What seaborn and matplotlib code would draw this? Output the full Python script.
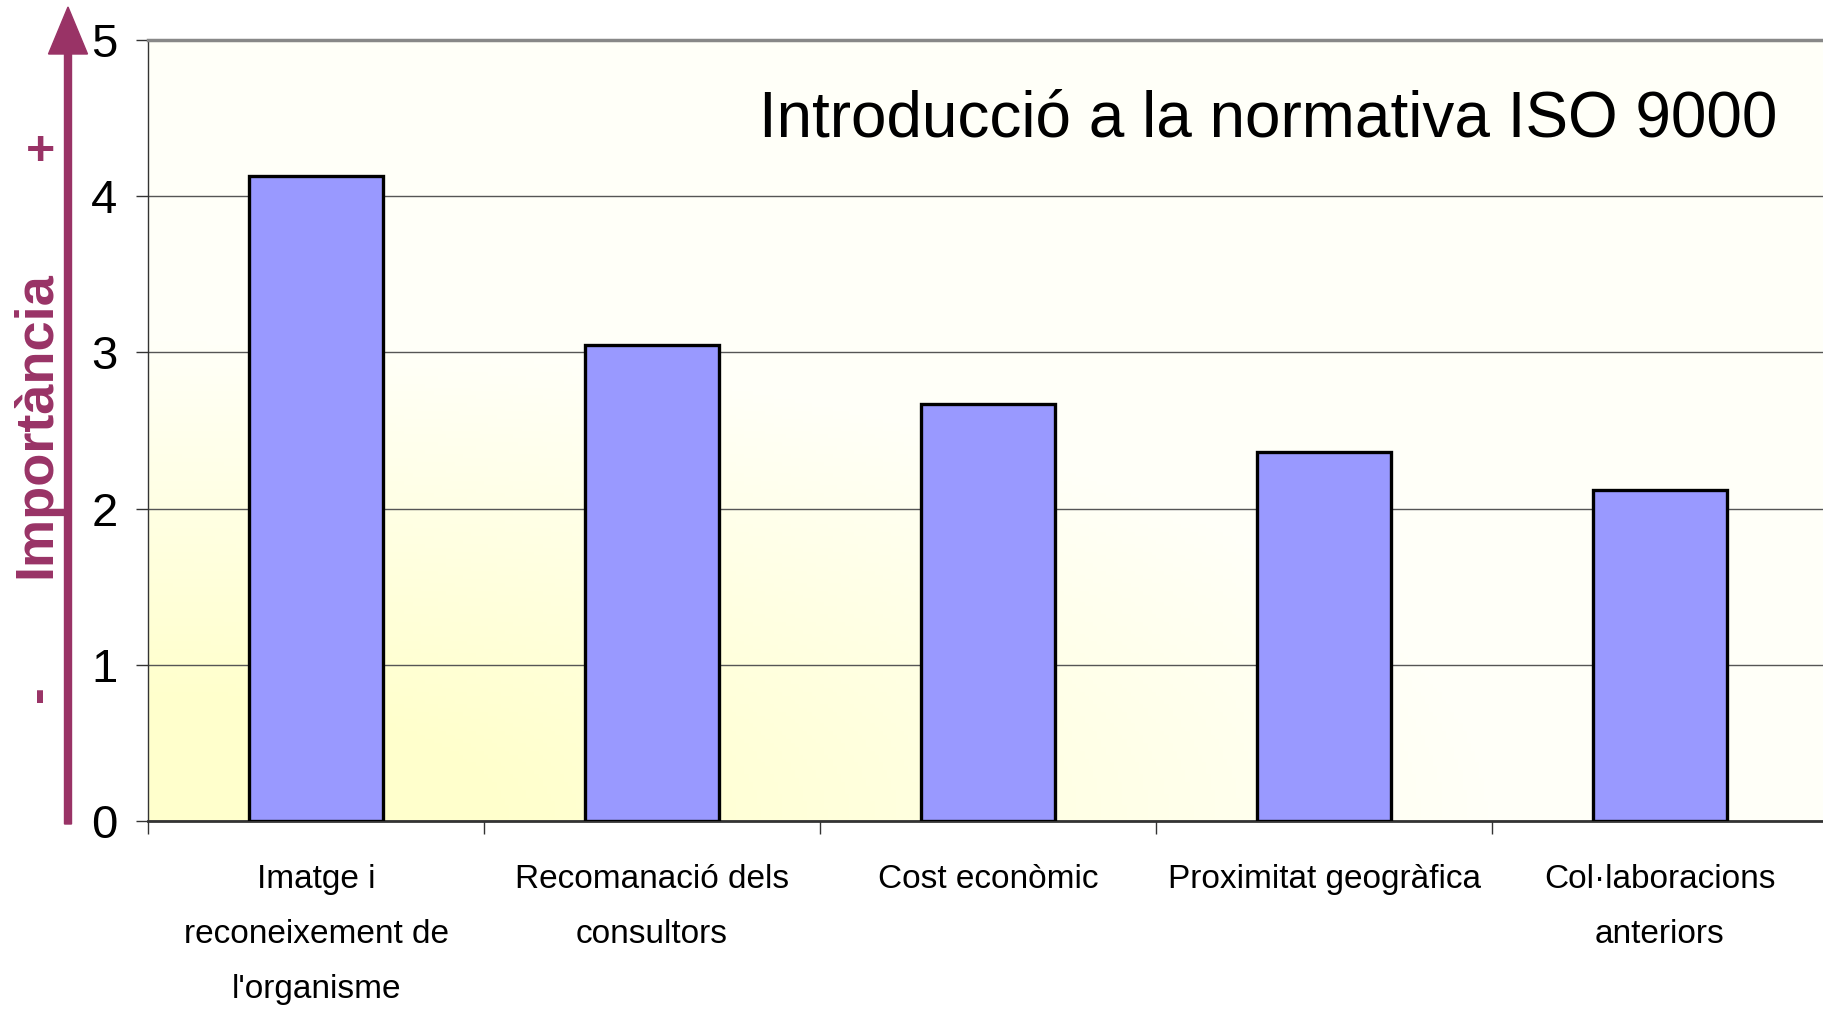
import numpy as np
import pandas as pd
import matplotlib
matplotlib.use("Agg")
import matplotlib.pyplot as plt
from matplotlib.patches import FancyArrow
from matplotlib.colors import LinearSegmentedColormap
import seaborn as sns

# data
categories = ["Imatge i\nreconeixement de\nl'organisme",
              "Recomanació dels\nconsultors",
              "Cost econòmic",
              "Proximitat geogràfica",
              "Col·laboracions\nanteriors"]
values = [4.13, 3.05, 2.67, 2.36, 2.12]
y_ticks = [0, 1, 2, 3, 4, 5]
title = "Introducció a la normativa ISO 9000"
y_label = "Importància"

sns.set_style("white")
plt.rcParams["font.family"] = ["Liberation Sans", "DejaVu Sans"]
plt.rcParams["text.color"] = "black"
plt.rcParams["xtick.color"] = "black"
plt.rcParams["ytick.color"] = "black"
accent = "#993366"

df = pd.DataFrame({"factor": categories, "valor": values})

fig = plt.figure(figsize=(18.24, 10.10), dpi=100)
ax = fig.add_axes([148 / 1824, 189 / 1010, 1680 / 1824, 781 / 1010])

sns.barplot(data=df, x="factor", y="valor", color="#9999FF", saturation=1,
            width=0.4, edgecolor="black", linewidth=2.4, ax=ax, zorder=3)

# pale yellow corner gradient behind the plot
gx, gy = np.meshgrid(np.linspace(0, 1, 400), np.linspace(0, 1, 200))
d = np.sqrt(gx ** 2 + (1.3 * gy) ** 2)
t = np.clip((d - 0.2) / 0.6, 0, 1)
bg = LinearSegmentedColormap.from_list("bg", ["#FFFFCC", "#FFFFF8"])
ax.imshow(t, cmap=bg, extent=[0, 1, 0, 1], transform=ax.transAxes,
          origin="lower", aspect="auto", zorder=0)

ax.set_xlim(-0.5, 4.5)
ax.set_ylim(0, 5)
ax.set_yticks(y_ticks)
ax.set_xlabel("")
ax.set_ylabel("")

ax.yaxis.grid(True, color="#555555", lw=1)
ax.set_axisbelow(True)

ax.tick_params(axis="y", left=True, length=9, width=1, color="#333333",
               pad=13, labelsize=34, labelcolor="black")
ax.tick_params(axis="x", which="major", length=0, pad=31, labelsize=24,
               labelcolor="black")
ax.set_xticks(np.arange(-0.5, 5, 1), minor=True)
ax.tick_params(axis="x", which="minor", bottom=True, length=9, width=1,
               color="#333333")
for lbl in ax.get_xticklabels():
    lbl.set_linespacing(2.0)

ax.spines["right"].set_visible(False)
ax.spines["top"].set_color("#888888")
ax.spines["top"].set_linewidth(2.5)
ax.spines["left"].set_color("#333333")
ax.spines["left"].set_linewidth(1)
ax.spines["bottom"].set_color("#333333")
ax.spines["bottom"].set_linewidth(2)

ax.text(0.970, 0.876, title, transform=ax.transAxes, ha="right",
        va="baseline", fontsize=46, color="black")

# importance arrow on the left
arrow = FancyArrow(0.68, 1.86, 0, 8.17, width=0.07, head_width=0.39,
                   head_length=0.47, length_includes_head=True,
                   color=accent, transform=fig.dpi_scale_trans)
fig.add_artist(arrow)
fig.text(0.36, 5.85, y_label, transform=fig.dpi_scale_trans, rotation=90,
         ha="center", va="center", fontsize=39, fontweight="bold",
         color=accent)
fig.text(0.40, 8.58, "+", transform=fig.dpi_scale_trans, ha="center",
         va="center", fontsize=36, fontweight="bold", color=accent)
fig.text(0.39, 3.16, "-", transform=fig.dpi_scale_trans, rotation=90,
         ha="center", va="center", fontsize=36, fontweight="bold",
         color=accent)

fig.savefig("out.png", dpi=100)
